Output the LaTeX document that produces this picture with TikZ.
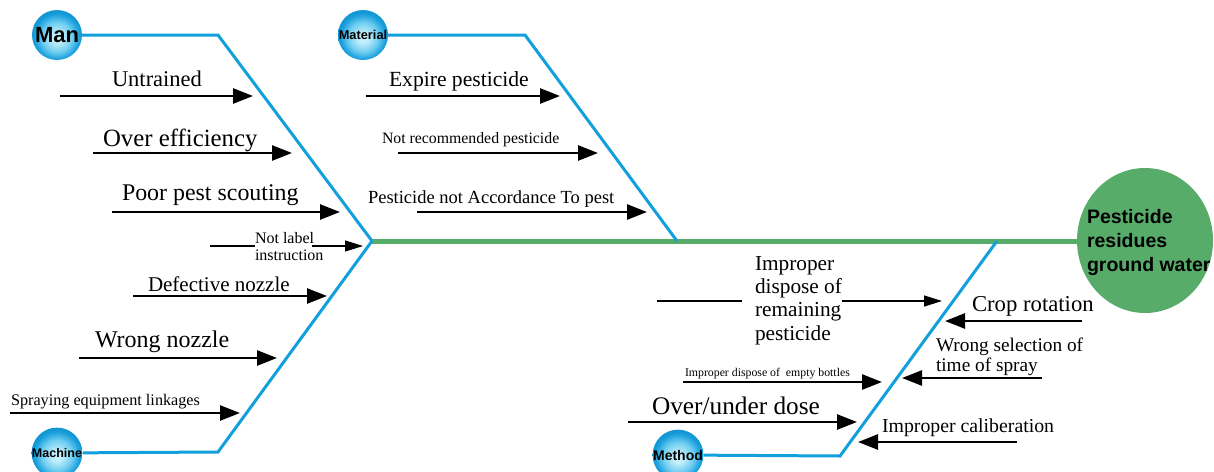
\documentclass[tikz,border=0pt]{standalone}
\usepackage{fontspec}
\setmainfont{Liberation Serif}
\setsansfont{Liberation Sans}
\usetikzlibrary{arrows.meta,shapes.geometric}
\definecolor{boneblue}{RGB}{18,160,220}
\definecolor{spinegreen}{RGB}{88,172,106}
\definecolor{ballin}{RGB}{195,238,250}
\definecolor{ballmid}{RGB}{110,205,240}
\definecolor{ballout}{RGB}{30,162,222}
\definecolor{ballrim}{RGB}{18,150,212}
\pgfdeclareradialshading{ballblue}{\pgfpoint{0bp}{-3bp}}{color(0bp)=(ballin); color(5bp)=(ballin); color(15bp)=(ballmid); color(22bp)=(ballout); color(25bp)=(ballrim); color(50bp)=(ballrim)}
\newcommand\fsz[2]{\fontsize{#1}{#2}\selectfont}
\begin{document}
\begin{tikzpicture}[x=1pt,y=-1pt,
  bone/.style={draw=boneblue, line width=3pt, line join=miter},
  spine/.style={draw=spinegreen, line width=5pt},
  cat/.style={circle, minimum size=50pt, inner sep=0pt, shade, shading=ballblue, draw=none},
  cause/.style={line width=2.6pt, -{Triangle[length=20pt,width=15pt]}},
  thinline/.style={line width=1.2pt},
  thinarrow/.style={line width=1.2pt, -{Triangle[length=18pt,width=11pt]}},
  lab/.style={anchor=base west, inner sep=0pt, outer sep=0pt, align=left}]
\useasboundingbox (0,0) rectangle (1214,471);

% junctions and corners
\coordinate (J1) at (372,241);
\coordinate (J2) at (677,241);
\coordinate (J3) at (997,241);
\coordinate (manc) at (218,35);
\coordinate (machc) at (218,452);
\coordinate (matc) at (525,35);
\coordinate (methc) at (840,456);

% effect
\node[ellipse, fill=spinegreen, draw=none, minimum width=136pt, minimum height=145pt, inner sep=0pt] (eff) at (1145,240.5) {};
\draw[spine] (J1) -- (J1 -| eff.west);

% category heads
\node[cat, font=\sffamily\bfseries\fsz{22}{24}] (man) at (57,35) {Man};
\node[cat, font=\sffamily\bfseries\fsz{12.8}{14}] (mat) at (363,35) {Material};
\node[cat, font=\sffamily\bfseries\fsz{12.5}{14}] (mach) at (57,453) {Machine};
\node[cat, font=\sffamily\bfseries\fsz{14}{16}] (meth) at (678,455) {Method};

% bones
\draw[bone] (man) -- (manc) -- (J1);
\draw[bone] (mach) -- (machc) -- (J1);
\draw[bone] (mat) -- (matc) -- (J2);
\draw[bone] (meth) -- (methc) -- (J3);

% effect text (base anchor = last line)
\node[lab, font=\sffamily\bfseries\fsz{19.5}{24}] (efft) at (1087,271) {Pesticide\\residues\\ground water};

% ---- Man causes
\node[lab, font=\fsz{22.5}{27}] (t1) at (112,86) {Untrained};
\coordinate (a1) at (60,96); \coordinate (b1) at (253,96);
\draw[cause] (a1) -- (b1);
\node[lab, font=\fsz{24.8}{28}] (t2) at (103,146) {Over efficiency};
\coordinate (a2) at (93,153); \coordinate (b2) at (292,153);
\draw[cause] (a2) -- (b2);
\node[lab, font=\fsz{23.9}{28}] (t3) at (122,200) {Poor pest scouting};
\coordinate (a3) at (112,212); \coordinate (b3) at (340,212);
\draw[cause] (a3) -- (b3);
\node[lab, font=\fsz{16}{17}] (t4) at (255,260) {Not label\\instruction};
\coordinate (a4) at (210,246); \coordinate (c4) at (255,246);
\coordinate (d4) at (312,246); \coordinate (b4) at (363,246);
\draw[thinline] (a4) -- (c4);
\draw[thinarrow] (d4) -- (b4);

% ---- Machine causes
\node[lab, font=\fsz{21}{25}] (t5) at (148,291) {Defective nozzle};
\coordinate (a5) at (133,296); \coordinate (b5) at (327,296);
\draw[cause] (a5) -- (b5);
\node[lab, font=\fsz{24}{28}] (t6) at (95,347) {Wrong nozzle};
\coordinate (a6) at (79,358); \coordinate (b6) at (277,358);
\draw[cause] (a6) -- (b6);
\node[lab, font=\fsz{16.2}{19}] (t7) at (11,405) {Spraying equipment linkages};
\coordinate (a7) at (10,413); \coordinate (b7) at (240,413);
\draw[cause] (a7) -- (b7);

% ---- Material causes
\node[lab, font=\fsz{21.6}{25}] (t8) at (389,86) {Expire pesticide};
\coordinate (a8) at (366,96); \coordinate (b8) at (560,96);
\draw[cause] (a8) -- (b8);
\node[lab, font=\fsz{15.8}{18}] (t9) at (382,143) {Not recommended pesticide};
\coordinate (a9) at (398,153); \coordinate (b9) at (598,153);
\draw[cause] (a9) -- (b9);
\node[lab, font=\fsz{18.5}{21}] (t10) at (368,203) {Pesticide not Accordance To pest};
\coordinate (a10) at (417,212); \coordinate (b10) at (647,212);
\draw[cause] (a10) -- (b10);

% ---- Method causes (left)
\node[lab, font=\fsz{21.3}{23.3}] (t11) at (755,340) {Improper\\dispose of\\remaining\\pesticide};
\coordinate (a11) at (657,301); \coordinate (c11) at (742,301);
\coordinate (d11) at (842,301); \coordinate (b11) at (942,301);
\draw[thinline] (a11) -- (c11);
\draw[thinarrow] (d11) -- (b11);
\node[lab, font=\fsz{11.8}{14}] (t12) at (685,376) {Improper dispose of\ \ empty bottles};
\coordinate (a12) at (683,382); \coordinate (b12) at (882,382);
\draw[cause] (a12) -- (b12);
\node[lab, font=\fsz{25.3}{29}] (t13) at (652,414) {Over/under dose};
\coordinate (a13) at (628,422); \coordinate (b13) at (857,422);
\draw[cause] (a13) -- (b13);

% ---- Method causes (right)
\node[lab, font=\fsz{22.7}{26}] (t14) at (972,311) {Crop rotation};
\coordinate (a14) at (1082,321); \coordinate (b14) at (945,321);
\draw[cause] (a14) -- (b14);
\node[lab, font=\fsz{19.3}{20}] (t15) at (936,371) {Wrong selection of\\time of spray};
\coordinate (a15) at (1042,378); \coordinate (b15) at (902,378);
\draw[cause] (a15) -- (b15);
\node[lab, font=\fsz{19.8}{23}] (t16) at (882,432) {Improper caliberation};
\coordinate (a16) at (1017,442); \coordinate (b16) at (858,442);
\draw[cause] (a16) -- (b16);
\end{tikzpicture}
\end{document}
